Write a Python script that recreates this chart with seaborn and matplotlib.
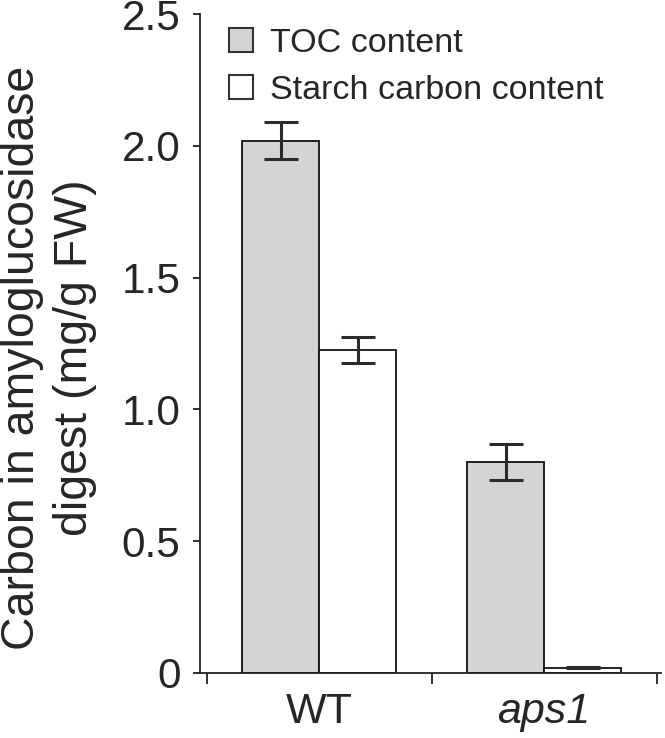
import matplotlib
matplotlib.use("Agg")
import matplotlib.pyplot as plt
import seaborn as sns
import pandas as pd
import numpy as np

genotypes = ["WT", "aps1"]
series = ["TOC content", "Starch carbon content"]
toc_values = [2.02, 0.80]
toc_errors = [0.07, 0.067]
starch_values = [1.225, 0.02]
starch_errors = [0.05, 0.002]
ytick_values = [0, 0.5, 1.0, 1.5, 2.0, 2.5]
ytick_labels = ["0", "0.5", "1.0", "1.5", "2.0", "2.5"]
ylabel = "Carbon in amyloglucosidase\ndigest (mg/g FW)"

sns.set_style("ticks")
plt.rcParams['font.family'] = ['Liberation Sans', 'DejaVu Sans']

df = pd.DataFrame({
    "genotype": genotypes * 2,
    "series": [series[0]] * 2 + [series[1]] * 2,
    "value": toc_values + starch_values,
    "err": toc_errors + starch_errors,
})

fig = plt.figure(figsize=(6.65, 7.38), dpi=100)
ax = fig.add_axes([0.3008, 0.0881, 0.6932, 0.8929])

palette = {series[0]: "#d3d4d6", series[1]: "#ffffff"}
sns.barplot(data=df, x="genotype", y="value", hue="series", order=genotypes,
            hue_order=series, palette=palette, width=0.686, gap=0,
            errorbar=None, edgecolor="#111111", linewidth=1.3, ax=ax,
            saturation=1)

# error bars positioned from the drawn bars
for i, s in enumerate(series):
    sub = df[df["series"] == s].set_index("genotype").loc[genotypes]
    cont = ax.containers[i]
    xs = [b.get_x() + b.get_width() / 2 for b in cont]
    ax.errorbar(xs, sub["value"].values, yerr=sub["err"].values, fmt="none",
                ecolor="#2b2b2b", elinewidth=2.2, capsize=12.5, capthick=2.2,
                zorder=5)

ax.set_ylim(0, 2.5)
ax.set_xlim(-0.53, 1.52)
ax.set_yticks(ytick_values)
ax.set_yticklabels(ytick_labels)
ax.set_xticks([0, 1])
ax.set_xticklabels(genotypes)
ax.get_xticklabels()[1].set_style("italic")
ax.set_xticks([-0.5, 0.5, 1.5], minor=True)
ax.tick_params(axis="x", which="major", length=0, labelsize=31, pad=14)
ax.tick_params(axis="x", which="minor", length=8, width=1.3, color="#222222")
ax.tick_params(axis="y", which="major", length=5, width=1.3, color="#222222",
               labelsize=30.5, pad=9)
ax.set_xlabel("")
ax.set_ylabel(ylabel, fontsize=33.5, linespacing=1.27, labelpad=17.5)
ax.yaxis.label.set_y(0.478)

for sp in ["top", "right"]:
    ax.spines[sp].set_visible(False)
for sp in ["left", "bottom"]:
    ax.spines[sp].set_linewidth(1.3)
    ax.spines[sp].set_color("#222222")

leg = ax.legend(loc="upper left", bbox_to_anchor=(0.0335, 0.999), frameon=False,
                fontsize=24.5, handlelength=0.7, handleheight=0.7,
                handletextpad=0.5, labelspacing=0.47, borderaxespad=0)
for h in leg.legend_handles:
    h.set_edgecolor("#333333")
    h.set_linewidth(1.5)

fig.savefig("out.png", dpi=100)
